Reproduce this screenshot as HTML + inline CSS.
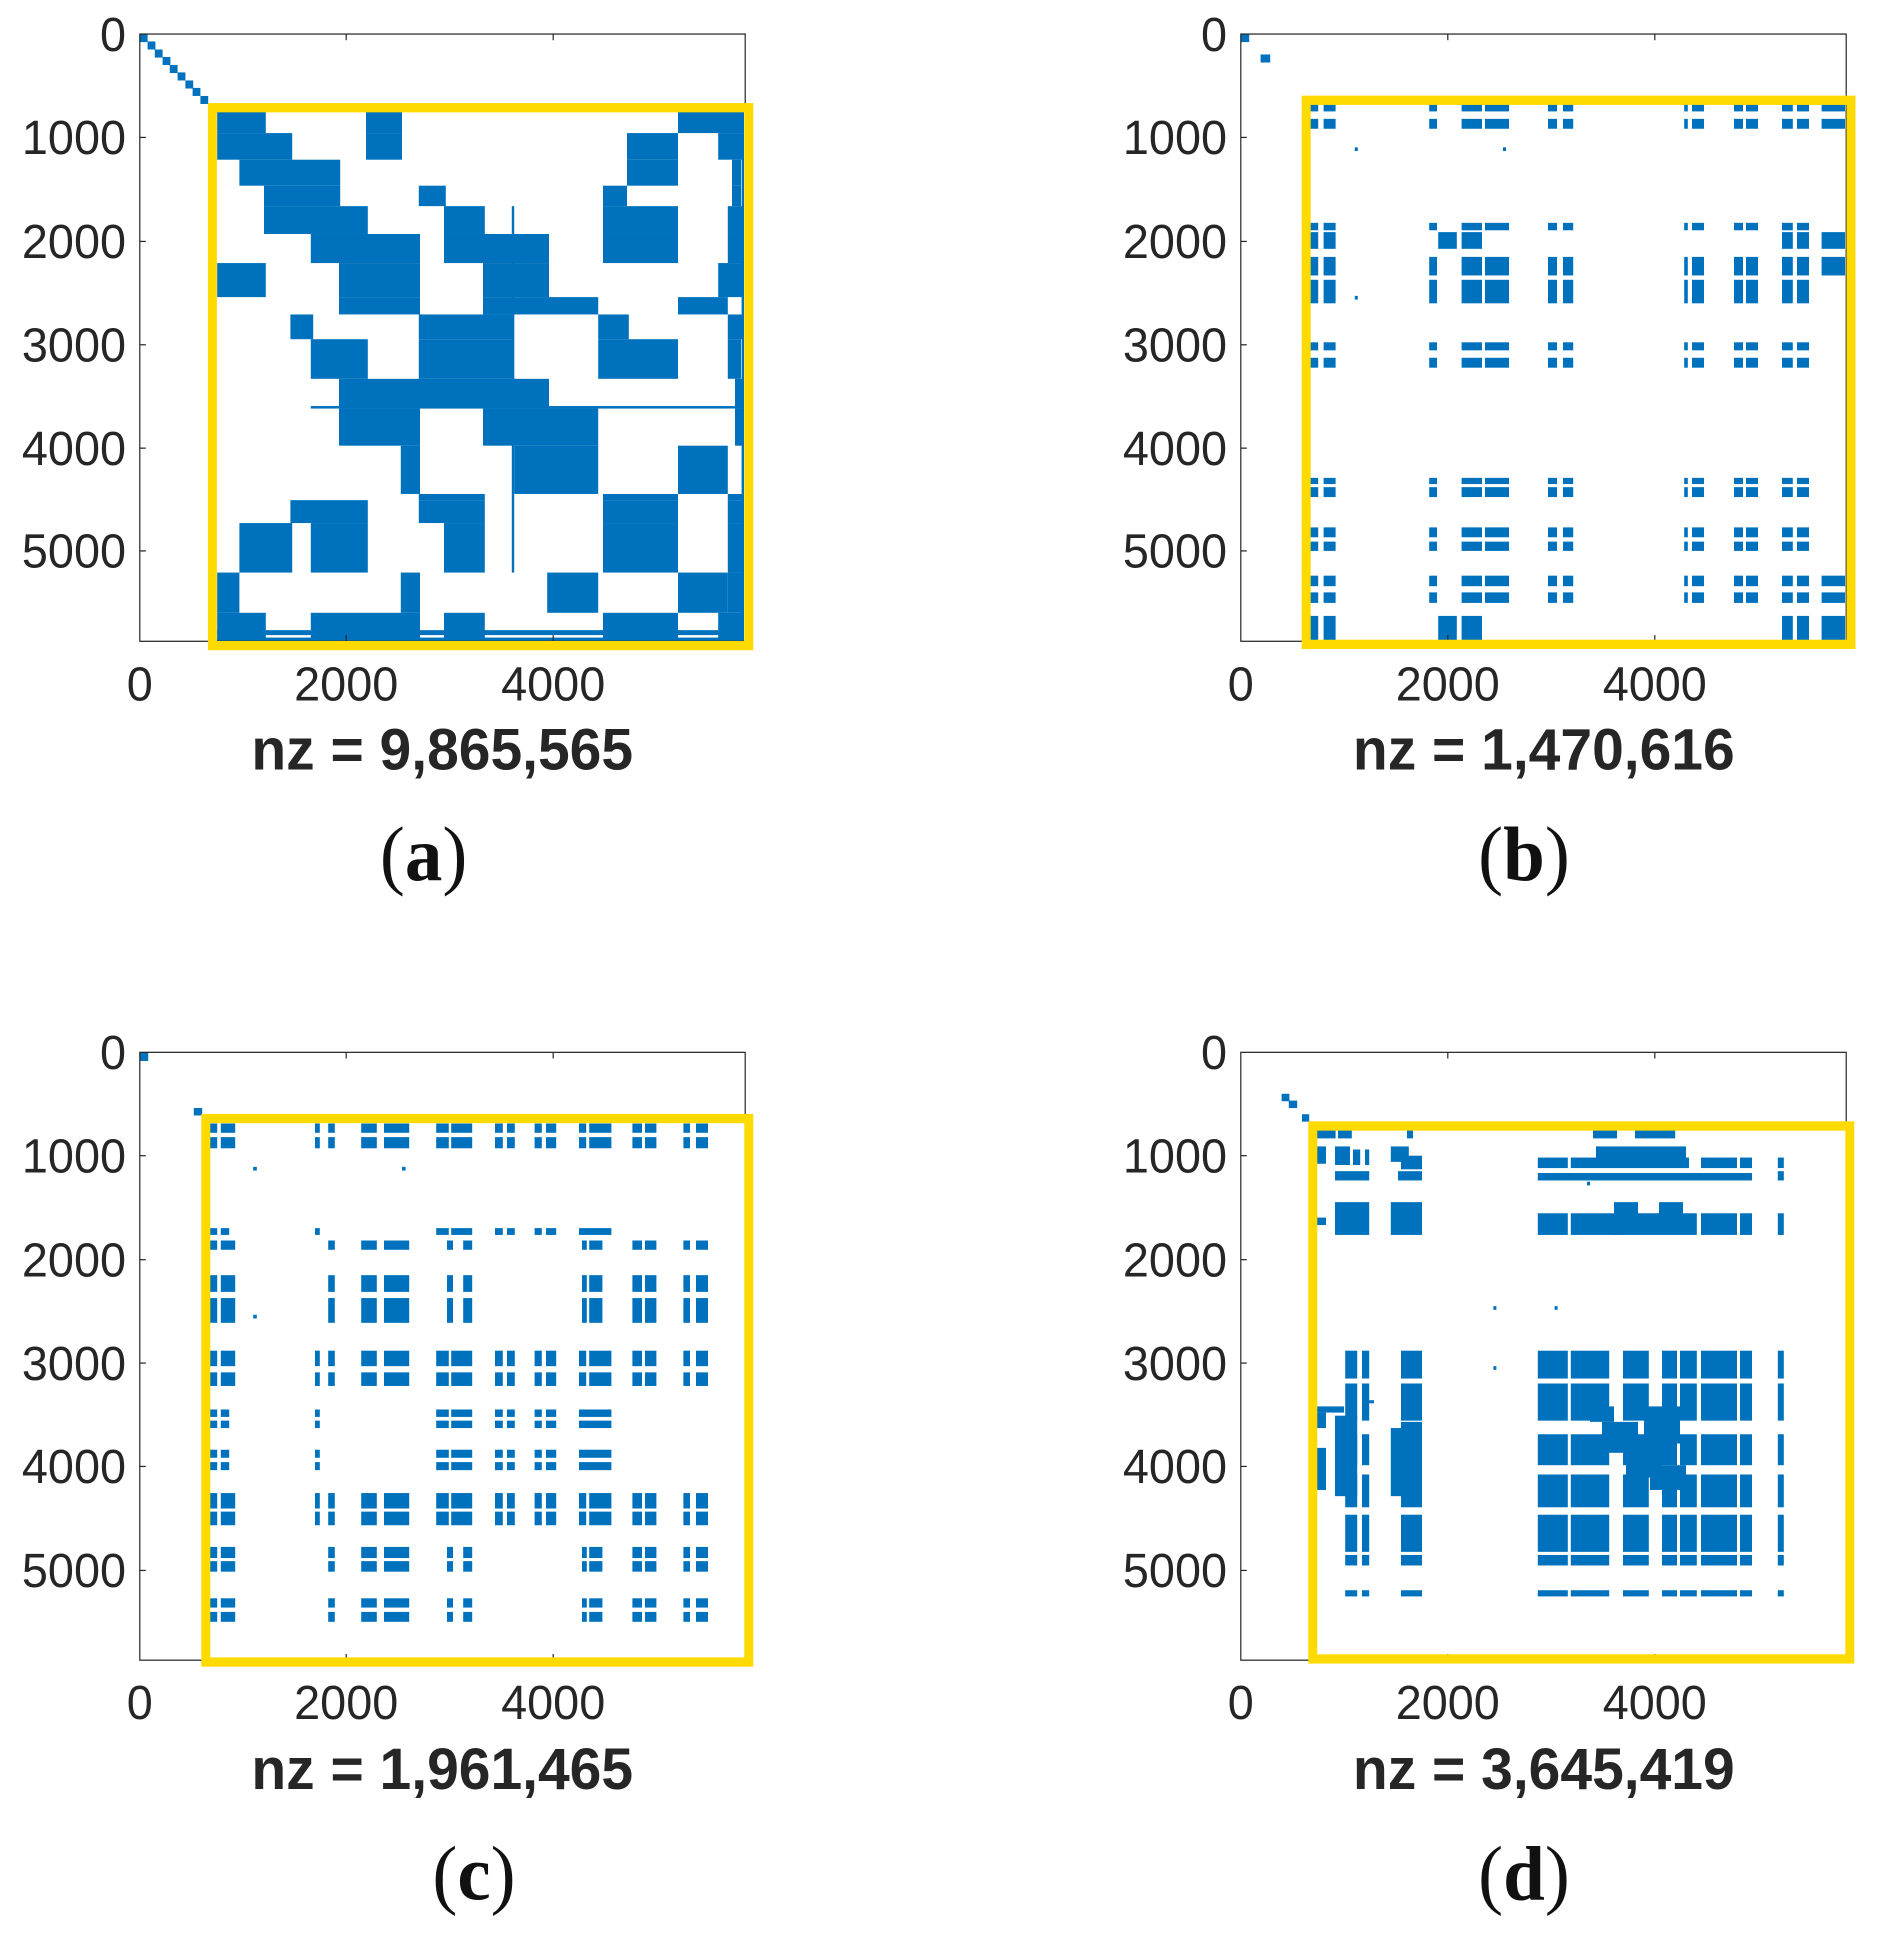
<!DOCTYPE html>
<html><head><meta charset="utf-8"><style>
html,body{margin:0;padding:0;background:#fff;}
svg{display:block;}
.t{font-family:"Liberation Sans",sans-serif;font-size:78px;fill:#262626;}
.nz{font-family:"Liberation Sans",sans-serif;font-size:95px;font-weight:bold;fill:#262626;}
.lab{font-family:"Liberation Serif",serif;font-size:125px;fill:#111;}
</style></head><body>
<svg width="1884" height="1940" viewBox="0 0 1884 1940" xmlns="http://www.w3.org/2000/svg">
<defs>
<mask id="mBall" maskUnits="userSpaceOnUse" x="0" y="0" width="2000" height="2000"><g fill="#fff">
<rect x="612" y="0" width="15" height="1100"/><rect x="636" y="0" width="20" height="1100"/>
<rect x="812" y="0" width="13" height="1100"/><rect x="866" y="0" width="34" height="1100"/><rect x="905" y="0" width="40" height="1100"/>
<rect x="1010" y="0" width="15" height="1100"/><rect x="1035" y="0" width="17" height="1100"/>
<rect x="1237" y="0" width="6" height="1100"/><rect x="1250" y="0" width="20" height="1100"/>
<rect x="1320" y="0" width="15" height="1100"/><rect x="1340" y="0" width="20" height="1100"/>
<rect x="1400" y="0" width="18" height="1100"/><rect x="1425" y="0" width="20" height="1100"/>
<rect x="1466" y="0" width="39" height="1100"/></g></mask>
<mask id="mB6" maskUnits="userSpaceOnUse" x="0" y="0" width="2000" height="2000"><g fill="#fff">
<rect x="612" y="0" width="15" height="1100"/><rect x="636" y="0" width="20" height="1100"/>
<rect x="812" y="0" width="13" height="1100"/><rect x="866" y="0" width="34" height="1100"/><rect x="905" y="0" width="40" height="1100"/>
<rect x="1010" y="0" width="15" height="1100"/><rect x="1035" y="0" width="17" height="1100"/>
<rect x="1237" y="0" width="6" height="1100"/><rect x="1250" y="0" width="20" height="1100"/>
<rect x="1320" y="0" width="15" height="1100"/><rect x="1340" y="0" width="20" height="1100"/>
<rect x="1400" y="0" width="18" height="1100"/><rect x="1425" y="0" width="20" height="1100"/></g></mask>
<mask id="mBr" maskUnits="userSpaceOnUse" x="0" y="0" width="2000" height="2000"><g fill="#fff">
<rect x="612" y="0" width="15" height="1100"/><rect x="636" y="0" width="20" height="1100"/>
<rect x="827" y="0" width="31" height="1100"/><rect x="866" y="0" width="34" height="1100"/>
<rect x="1400" y="0" width="18" height="1100"/><rect x="1425" y="0" width="20" height="1100"/>
<rect x="1466" y="0" width="39" height="1100"/></g></mask>

<mask id="mCall" maskUnits="userSpaceOnUse" x="0" y="0" width="2000" height="2000"><g fill="#fff">
<rect x="350" y="0" width="12" height="1200"/><rect x="368" y="0" width="24" height="1200"/>
<rect x="525" y="0" width="8" height="1200"/><rect x="547" y="0" width="11" height="1200"/>
<rect x="602" y="0" width="26" height="1200"/><rect x="640" y="0" width="42" height="1200"/>
<rect x="727" y="0" width="21" height="1200"/><rect x="752" y="0" width="35" height="1200"/>
<rect x="825" y="0" width="13" height="1200"/><rect x="845" y="0" width="13" height="1200"/>
<rect x="891" y="0" width="12" height="1200"/><rect x="910" y="0" width="17" height="1200"/>
<rect x="965" y="0" width="12" height="1200"/><rect x="982" y="0" width="37" height="1200"/>
<rect x="1054" y="0" width="16" height="1200"/><rect x="1075" y="0" width="19" height="1200"/>
<rect x="1139" y="0" width="11" height="1200"/><rect x="1160" y="0" width="20" height="1200"/></g></mask>
<mask id="mCs1" maskUnits="userSpaceOnUse" x="0" y="0" width="2000" height="2000"><g fill="#fff">
<rect x="350" y="0" width="12" height="1200"/><rect x="368" y="0" width="24" height="1200"/>
<rect x="547" y="0" width="11" height="1200"/>
<rect x="602" y="0" width="26" height="1200"/><rect x="640" y="0" width="42" height="1200"/>
<rect x="745" y="0" width="10" height="1200"/><rect x="772" y="0" width="15" height="1200"/>
<rect x="970" y="0" width="8" height="1200"/><rect x="982" y="0" width="22" height="1200"/>
<rect x="1054" y="0" width="16" height="1200"/><rect x="1075" y="0" width="19" height="1200"/>
<rect x="1139" y="0" width="11" height="1200"/><rect x="1160" y="0" width="20" height="1200"/></g></mask>
<mask id="mCs2" maskUnits="userSpaceOnUse" x="0" y="0" width="2000" height="2000"><g fill="#fff">
<rect x="350" y="0" width="12" height="1200"/><rect x="368" y="0" width="14" height="1200"/>
<rect x="525" y="0" width="8" height="1200"/>
<rect x="727" y="0" width="21" height="1200"/><rect x="752" y="0" width="35" height="1200"/>
<rect x="825" y="0" width="13" height="1200"/><rect x="845" y="0" width="13" height="1200"/>
<rect x="891" y="0" width="12" height="1200"/><rect x="910" y="0" width="17" height="1200"/>
<rect x="965" y="0" width="54" height="1200"/></g></mask>

<mask id="mD" maskUnits="userSpaceOnUse" x="0" y="0" width="2000" height="2000"><g fill="#fff">
<rect x="672" y="0" width="20" height="1200"/><rect x="700" y="0" width="12" height="1200"/>
<rect x="765" y="0" width="35" height="1200"/><rect x="993" y="0" width="50" height="1200"/>
<rect x="1048" y="0" width="64" height="1200"/><rect x="1135" y="0" width="43" height="1200"/>
<rect x="1200" y="0" width="25" height="1200"/><rect x="1230" y="0" width="28" height="1200"/>
<rect x="1265" y="0" width="60" height="1200"/><rect x="1330" y="0" width="20" height="1200"/>
<rect x="1393" y="0" width="10" height="1200"/></g></mask>
</defs>

<!-- ============ PANEL A ============ -->
<g transform="translate(0,0) scale(0.6,0.619)">
<g fill="#0072BD">
<rect x="233" y="55" width="13" height="13"/><rect x="246" y="67" width="13" height="13"/><rect x="258" y="80" width="13" height="13"/><rect x="271" y="92" width="13" height="13"/><rect x="283" y="105" width="13" height="13"/><rect x="296" y="117" width="13" height="13"/><rect x="309" y="130" width="13" height="13"/><rect x="321" y="142" width="13" height="13"/><rect x="334" y="155" width="13" height="13"/>
<rect x="362" y="180" width="81" height="35"/><rect x="610" y="180" width="60" height="35"/><rect x="1130" y="180" width="110" height="35"/>
<rect x="362" y="215" width="125" height="43"/><rect x="610" y="215" width="60" height="43"/><rect x="1045" y="215" width="85" height="43"/><rect x="1197" y="215" width="43" height="43"/>
<rect x="399" y="258" width="168" height="42"/><rect x="1045" y="258" width="85" height="42"/><rect x="1220" y="258" width="15" height="42"/>
<rect x="440" y="300" width="127" height="33"/><rect x="698" y="300" width="45" height="33"/><rect x="1005" y="300" width="40" height="33"/><rect x="1220" y="300" width="15" height="33"/>
<rect x="440" y="333" width="173" height="45"/><rect x="740" y="333" width="68" height="45"/><rect x="1005" y="333" width="125" height="45"/><rect x="1213" y="333" width="27" height="45"/>
<rect x="518" y="378" width="182" height="47"/><rect x="740" y="378" width="175" height="47"/><rect x="1005" y="378" width="125" height="47"/><rect x="1213" y="378" width="27" height="47"/>
<rect x="362" y="425" width="81" height="55"/><rect x="565" y="425" width="135" height="55"/><rect x="805" y="425" width="110" height="55"/><rect x="1197" y="425" width="43" height="55"/>
<rect x="565" y="480" width="135" height="28"/><rect x="805" y="480" width="192" height="28"/><rect x="1130" y="480" width="83" height="28"/>
<rect x="484" y="508" width="38" height="40"/><rect x="698" y="508" width="159" height="40"/><rect x="997" y="508" width="51" height="40"/><rect x="1213" y="508" width="27" height="40"/>
<rect x="518" y="548" width="95" height="64"/><rect x="698" y="548" width="159" height="64"/><rect x="997" y="548" width="133" height="64"/><rect x="1213" y="548" width="22" height="64"/>
<rect x="565" y="612" width="350" height="48"/><rect x="1225" y="612" width="15" height="48"/>
<rect x="565" y="660" width="135" height="60"/><rect x="805" y="660" width="192" height="60"/><rect x="1225" y="660" width="15" height="60"/>
<rect x="668" y="720" width="32" height="78"/><rect x="857" y="720" width="140" height="78"/><rect x="1130" y="720" width="83" height="78"/>
<rect x="698" y="798" width="110" height="10"/><rect x="1005" y="798" width="125" height="10"/><rect x="1213" y="798" width="27" height="10"/>
<rect x="484" y="808" width="129" height="37"/><rect x="698" y="808" width="110" height="37"/><rect x="1005" y="808" width="125" height="37"/><rect x="1213" y="808" width="27" height="37"/>
<rect x="399" y="845" width="88" height="80"/><rect x="518" y="845" width="95" height="80"/><rect x="740" y="845" width="68" height="80"/><rect x="1005" y="845" width="125" height="80"/><rect x="1213" y="845" width="27" height="80"/>
<rect x="362" y="925" width="37" height="65"/><rect x="668" y="925" width="32" height="65"/><rect x="912" y="925" width="85" height="65"/><rect x="1130" y="925" width="83" height="65"/><rect x="1213" y="925" width="27" height="65"/>
<rect x="362" y="990" width="81" height="46"/><rect x="518" y="990" width="182" height="46"/><rect x="740" y="990" width="68" height="46"/><rect x="1005" y="990" width="125" height="46"/><rect x="1197" y="990" width="43" height="46"/>
<rect x="362" y="1018" width="878" height="8"/><rect x="362" y="1030" width="878" height="6"/>
<rect x="853" y="333" width="4" height="592"/><rect x="518" y="656" width="722" height="4"/><rect x="1236" y="220" width="4" height="816"/>
</g>
<rect x="233" y="55" width="1009" height="981" fill="none" stroke="#262626" stroke-width="2"/>
<g stroke="#262626" stroke-width="2"><line x1="577" y1="1036" x2="577" y2="1026"/><line x1="922" y1="1036" x2="922" y2="1026"/><line x1="577" y1="55" x2="577" y2="65"/><line x1="922" y1="55" x2="922" y2="65"/>
<line x1="233" y1="222" x2="243" y2="222"/><line x1="233" y1="390" x2="243" y2="390"/><line x1="233" y1="557" x2="243" y2="557"/><line x1="233" y1="724" x2="243" y2="724"/><line x1="233" y1="890" x2="243" y2="890"/></g>
<rect x="354" y="174" width="894" height="869" fill="none" stroke="#FFDA00" stroke-width="15"/>
<g class="t" text-anchor="end"><text x="210" y="82">0</text><text x="210" y="249">1000</text><text x="210" y="417">2000</text><text x="210" y="584">3000</text><text x="210" y="751">4000</text><text x="210" y="917">5000</text></g>
<g class="t" text-anchor="middle"><text x="233" y="1132">0</text><text x="577" y="1132">2000</text><text x="922" y="1132">4000</text></g>
<text class="nz" x="737" y="1243" text-anchor="middle">nz = 9,865,565</text>
<text class="lab" x="706" y="1422" text-anchor="middle">(<tspan font-weight="bold">a</tspan>)</text>
</g>

<!-- ============ PANEL B ============ -->
<g transform="translate(942,0) scale(0.6,0.619)">
<g fill="#0072BD">
<rect x="498" y="55" width="14" height="13"/><rect x="531" y="88" width="16" height="13"/>
<rect x="688" y="238" width="5" height="6"/><rect x="935" y="238" width="5" height="6"/><rect x="688" y="478" width="5" height="6"/>
</g>
<g fill="#0072BD" mask="url(#mBall)">
<rect x="600" y="165" width="920" height="15"/><rect x="600" y="192" width="920" height="16"/>
<rect x="600" y="415" width="920" height="30"/>
<rect x="600" y="930" width="920" height="17"/><rect x="600" y="957" width="920" height="17"/>
</g>
<g fill="#0072BD" mask="url(#mB6)">
<rect x="600" y="360" width="920" height="12"/><rect x="600" y="452" width="920" height="38"/>
<rect x="600" y="553" width="920" height="13"/><rect x="600" y="578" width="920" height="16"/>
<rect x="600" y="772" width="920" height="10"/><rect x="600" y="787" width="920" height="16"/>
<rect x="600" y="852" width="920" height="16"/><rect x="600" y="875" width="920" height="15"/>
</g>
<g fill="#0072BD" mask="url(#mBr)">
<rect x="600" y="375" width="920" height="27"/><rect x="600" y="995" width="920" height="41"/>
</g>
<rect x="498" y="55" width="1009" height="981" fill="none" stroke="#262626" stroke-width="2"/>
<g stroke="#262626" stroke-width="2"><line x1="843" y1="1036" x2="843" y2="1026"/><line x1="1188" y1="1036" x2="1188" y2="1026"/><line x1="843" y1="55" x2="843" y2="65"/><line x1="1188" y1="55" x2="1188" y2="65"/>
<line x1="498" y1="222" x2="508" y2="222"/><line x1="498" y1="390" x2="508" y2="390"/><line x1="498" y1="557" x2="508" y2="557"/><line x1="498" y1="724" x2="508" y2="724"/><line x1="498" y1="890" x2="508" y2="890"/></g>
<rect x="607" y="162" width="908" height="879" fill="none" stroke="#FFDA00" stroke-width="15"/>
<g class="t" text-anchor="end"><text x="475" y="82">0</text><text x="475" y="249">1000</text><text x="475" y="417">2000</text><text x="475" y="584">3000</text><text x="475" y="751">4000</text><text x="475" y="917">5000</text></g>
<g class="t" text-anchor="middle"><text x="498" y="1132">0</text><text x="843" y="1132">2000</text><text x="1188" y="1132">4000</text></g>
<text class="nz" x="1003" y="1243" text-anchor="middle">nz = 1,470,616</text>
<text class="lab" x="970" y="1422" text-anchor="middle">(<tspan font-weight="bold">b</tspan>)</text>
</g>

<!-- ============ PANEL C ============ -->
<g transform="translate(0,970) scale(0.6,0.619)">
<g fill="#0072BD">
<rect x="233" y="133" width="14" height="14"/><rect x="323" y="223" width="14" height="12"/>
<rect x="422" y="318" width="6" height="6"/><rect x="670" y="318" width="6" height="6"/><rect x="422" y="557" width="6" height="6"/>
</g>
<g fill="#0072BD" mask="url(#mCall)">
<rect x="340" y="248" width="900" height="15"/><rect x="340" y="270" width="900" height="18"/>
<rect x="340" y="615" width="900" height="25"/><rect x="340" y="650" width="900" height="22"/>
<rect x="340" y="845" width="900" height="25"/><rect x="340" y="875" width="900" height="22"/>
</g>
<g fill="#0072BD" mask="url(#mCs1)">
<rect x="340" y="437" width="900" height="15"/><rect x="340" y="493" width="900" height="27"/><rect x="340" y="530" width="900" height="40"/>
<rect x="340" y="932" width="900" height="18"/><rect x="340" y="955" width="900" height="17"/>
<rect x="340" y="1015" width="900" height="15"/><rect x="340" y="1037" width="900" height="16"/>
</g>
<g fill="#0072BD" mask="url(#mCs2)">
<rect x="340" y="417" width="900" height="11"/>
<rect x="340" y="710" width="900" height="12"/><rect x="340" y="728" width="900" height="12"/>
<rect x="340" y="775" width="900" height="13"/><rect x="340" y="795" width="900" height="13"/>
</g>
<rect x="233" y="133" width="1009" height="982" fill="none" stroke="#262626" stroke-width="2"/>
<g stroke="#262626" stroke-width="2"><line x1="577" y1="1115" x2="577" y2="1105"/><line x1="922" y1="1115" x2="922" y2="1105"/><line x1="577" y1="133" x2="577" y2="143"/><line x1="922" y1="133" x2="922" y2="143"/>
<line x1="233" y1="300" x2="243" y2="300"/><line x1="233" y1="468" x2="243" y2="468"/><line x1="233" y1="635" x2="243" y2="635"/><line x1="233" y1="802" x2="243" y2="802"/><line x1="233" y1="970" x2="243" y2="970"/></g>
<rect x="343" y="240" width="905" height="878" fill="none" stroke="#FFDA00" stroke-width="15"/>
<g class="t" text-anchor="end"><text x="210" y="160">0</text><text x="210" y="327">1000</text><text x="210" y="495">2000</text><text x="210" y="662">3000</text><text x="210" y="829">4000</text><text x="210" y="997">5000</text></g>
<g class="t" text-anchor="middle"><text x="233" y="1210">0</text><text x="577" y="1210">2000</text><text x="922" y="1210">4000</text></g>
<text class="nz" x="737" y="1323" text-anchor="middle">nz = 1,961,465</text>
<text class="lab" x="790" y="1502" text-anchor="middle">(<tspan font-weight="bold">c</tspan>)</text>
</g>

<!-- ============ PANEL D ============ -->
<g transform="translate(942,970) scale(0.6,0.619)">
<g fill="#0072BD">
<rect x="566" y="200" width="13" height="12"/><rect x="578" y="211" width="14" height="12"/><rect x="600" y="233" width="12" height="12"/>
<rect x="919" y="543" width="5" height="6"/><rect x="1021" y="543" width="5" height="6"/><rect x="919" y="640" width="5" height="6"/><rect x="1075" y="342" width="5" height="6"/>
<rect x="625" y="258" width="31" height="14"/><rect x="660" y="258" width="23" height="14"/><rect x="775" y="258" width="10" height="14"/><rect x="1085" y="258" width="40" height="14"/><rect x="1155" y="258" width="67" height="14"/>
<rect x="625" y="285" width="15" height="28"/><rect x="655" y="285" width="25" height="30"/><rect x="685" y="290" width="12" height="25"/><rect x="705" y="290" width="7" height="25"/>
<rect x="748" y="285" width="30" height="25"/><rect x="765" y="300" width="35" height="22"/>
<rect x="993" y="303" width="50" height="17"/><rect x="1048" y="303" width="197" height="17"/><rect x="1090" y="285" width="150" height="20"/><rect x="1265" y="303" width="60" height="17"/><rect x="1330" y="303" width="20" height="17"/><rect x="1393" y="303" width="10" height="17"/>
<rect x="655" y="325" width="57" height="15"/><rect x="760" y="325" width="40" height="15"/><rect x="993" y="328" width="357" height="12"/><rect x="1393" y="325" width="10" height="15"/>
<rect x="625" y="400" width="15" height="12"/><rect x="655" y="375" width="57" height="53"/><rect x="748" y="375" width="52" height="53"/>
<rect x="993" y="393" width="50" height="35"/><rect x="1048" y="393" width="82" height="35"/><rect x="1120" y="375" width="40" height="53"/><rect x="1160" y="393" width="98" height="35"/><rect x="1195" y="375" width="40" height="25"/><rect x="1265" y="393" width="60" height="35"/><rect x="1330" y="393" width="20" height="35"/><rect x="1393" y="393" width="10" height="35"/>
<rect x="625" y="705" width="45" height="10"/><rect x="625" y="715" width="15" height="25"/><rect x="625" y="772" width="15" height="68"/>
<rect x="655" y="720" width="37" height="130"/><rect x="712" y="695" width="8" height="5"/>
<rect x="748" y="740" width="25" height="110"/><rect x="765" y="730" width="35" height="120"/>
<rect x="1080" y="705" width="40" height="25"/><rect x="1100" y="730" width="60" height="50"/><rect x="1140" y="760" width="60" height="60"/><rect x="1170" y="705" width="60" height="60"/><rect x="1180" y="800" width="60" height="40"/>
</g>
<g fill="#0072BD" mask="url(#mD)">
<rect x="600" y="615" width="900" height="45"/><rect x="600" y="668" width="900" height="60"/>
<rect x="600" y="750" width="900" height="50"/><rect x="600" y="815" width="900" height="53"/>
<rect x="600" y="880" width="900" height="60"/><rect x="600" y="945" width="900" height="17"/>
<rect x="600" y="1002" width="900" height="10"/>
</g>
<rect x="498" y="133" width="1009" height="982" fill="none" stroke="#262626" stroke-width="2"/>
<g stroke="#262626" stroke-width="2"><line x1="843" y1="1115" x2="843" y2="1105"/><line x1="1188" y1="1115" x2="1188" y2="1105"/><line x1="843" y1="133" x2="843" y2="143"/><line x1="1188" y1="133" x2="1188" y2="143"/>
<line x1="498" y1="300" x2="508" y2="300"/><line x1="498" y1="468" x2="508" y2="468"/><line x1="498" y1="635" x2="508" y2="635"/><line x1="498" y1="802" x2="508" y2="802"/><line x1="498" y1="970" x2="508" y2="970"/></g>
<rect x="618" y="252" width="895" height="861" fill="none" stroke="#FFDA00" stroke-width="15"/>
<g class="t" text-anchor="end"><text x="475" y="160">0</text><text x="475" y="327">1000</text><text x="475" y="495">2000</text><text x="475" y="662">3000</text><text x="475" y="829">4000</text><text x="475" y="997">5000</text></g>
<g class="t" text-anchor="middle"><text x="498" y="1210">0</text><text x="843" y="1210">2000</text><text x="1188" y="1210">4000</text></g>
<text class="nz" x="1003" y="1323" text-anchor="middle">nz = 3,645,419</text>
<text class="lab" x="970" y="1502" text-anchor="middle">(<tspan font-weight="bold">d</tspan>)</text>
</g>
</svg>
</body></html>
